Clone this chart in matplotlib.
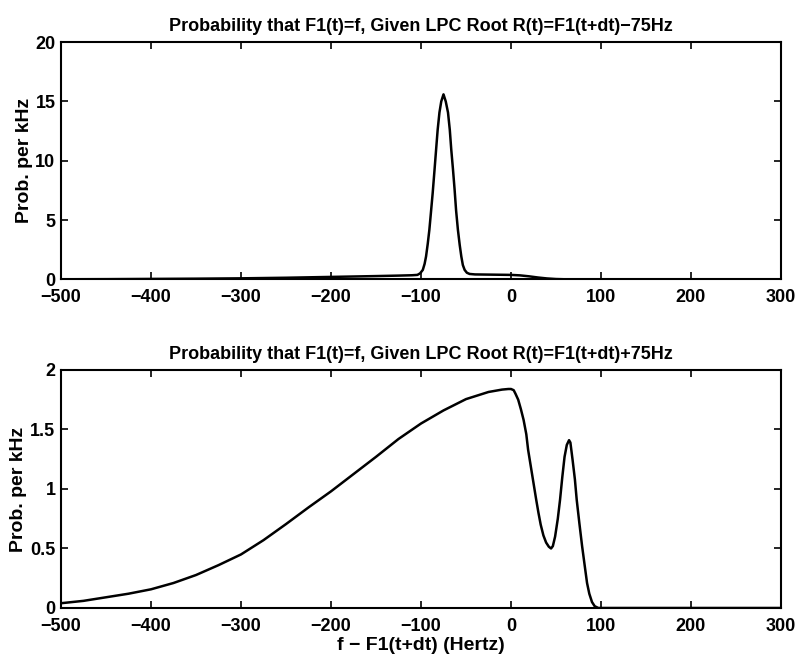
import matplotlib
matplotlib.use("Agg")
import matplotlib.pyplot as plt

plt.rcParams['font.family'] = ['Liberation Sans', 'DejaVu Sans']
plt.rcParams['font.weight'] = 'bold'

# Top panel: R(t) = F1(t+dt) - 75Hz
top_x = [-500, -450, -400, -350, -300, -250, -200, -150, -125, -110, -104, -101, -98, -96,
         -94.4, -92.5, -90.7, -89, -87, -85, -83.2, -81.5, -79.5, -77.5, -75, -72.5, -70,
         -68, -66.4, -64.5, -62.7, -61, -59, -57, -55.2, -53.5, -51.5, -49, -46, -40, -20,
         0, 10, 20, 30, 40, 50, 60, 100, 200, 300]
top_y = [0.0, 0.01, 0.03, 0.05, 0.08, 0.13, 0.2, 0.27, 0.31, 0.34, 0.37, 0.5, 0.79, 1.3,
         1.92, 3.0, 4.18, 5.6, 7.29, 9.2, 10.96, 12.6, 14.07, 15.0, 15.6, 15.0, 14.07,
         12.6, 10.96, 9.3, 7.6, 5.8, 4.18, 2.9, 1.92, 1.2, 0.79, 0.55, 0.45, 0.41, 0.39,
         0.37, 0.33, 0.25, 0.15, 0.07, 0.02, 0.0, 0.0, 0.0, 0.0]

# Bottom panel: R(t) = F1(t+dt) + 75Hz
bot_x = [-500, -475, -450, -425, -400, -375, -350, -325, -300, -275, -250, -225, -200,
         -175, -150, -125, -100, -75, -50, -25, -10, -3, 0, 3, 5, 8, 11, 14, 17, 19, 22,
         25, 28, 30.5, 33, 36, 39, 42, 44.5, 46.5, 49, 52, 54.5, 57, 59.5, 62, 64.5, 66,
         68.5, 71, 73, 76, 79, 82, 84.5, 87, 90, 93, 97, 100, 200, 300]
bot_y = [0.04, 0.06, 0.09, 0.12, 0.157, 0.21, 0.277, 0.36, 0.45, 0.57, 0.705, 0.845, 0.98,
         1.125, 1.27, 1.42, 1.55, 1.66, 1.755, 1.815, 1.835, 1.84, 1.84, 1.83, 1.80, 1.75,
         1.67, 1.58, 1.46, 1.33, 1.19, 1.05, 0.91, 0.80, 0.70, 0.61, 0.55, 0.515, 0.50,
         0.52, 0.60, 0.75, 0.91, 1.10, 1.27, 1.37, 1.41, 1.39, 1.24, 1.08, 0.91, 0.71,
         0.52, 0.35, 0.21, 0.12, 0.05, 0.015, 0.0, 0.0, 0.0, 0.0]

xticks = [-500, -400, -300, -200, -100, 0, 100, 200, 300]

fig = plt.figure(figsize=(8, 6.59), dpi=100)
ax1 = fig.add_axes([0.07625, 0.5762, 0.9, 0.3598])
ax2 = fig.add_axes([0.07625, 0.0774, 0.9, 0.3612])

def style(ax):
    ax.set_xlim(-500, 300)
    ax.set_xticks(xticks)
    ax.tick_params(direction='in', top=True, right=True, length=5, width=1.2,
                   labelsize=13)
    ax.tick_params(axis='x', pad=7)
    ax.tick_params(axis='y', pad=4)
    for s in ax.spines.values():
        s.set_linewidth(1.5)
    for lab in ax.get_xticklabels() + ax.get_yticklabels():
        lab.set_fontweight('bold')

ax1.plot(top_x, top_y, color='black', lw=1.8)
ax1.set_ylim(0, 20)
ax1.set_yticks([0, 5, 10, 15, 20])
style(ax1)
ax1.set_title('Probability that F1(t)=f, Given LPC Root R(t)=F1(t+dt)\u221275Hz',
              fontsize=13, fontweight='bold', pad=8)
ax1.set_ylabel('Prob. per kHz', fontsize=14, fontweight='bold', labelpad=2)

ax2.plot(bot_x, bot_y, color='black', lw=1.8)
ax2.set_ylim(0, 2)
ax2.set_yticks([0, 0.5, 1, 1.5, 2])
ax2.set_yticklabels(['0', '0.5', '1', '1.5', '2'])
style(ax2)
ax2.set_title('Probability that F1(t)=f, Given LPC Root R(t)=F1(t+dt)+75Hz',
              fontsize=13, fontweight='bold', pad=8)
ax2.set_ylabel('Prob. per kHz', fontsize=14, fontweight='bold', labelpad=2)
ax2.set_xlabel('f \u2212 F1(t+dt) (Hertz)', fontsize=14, fontweight='bold', labelpad=2)

fig.savefig('out.png', dpi=100)
